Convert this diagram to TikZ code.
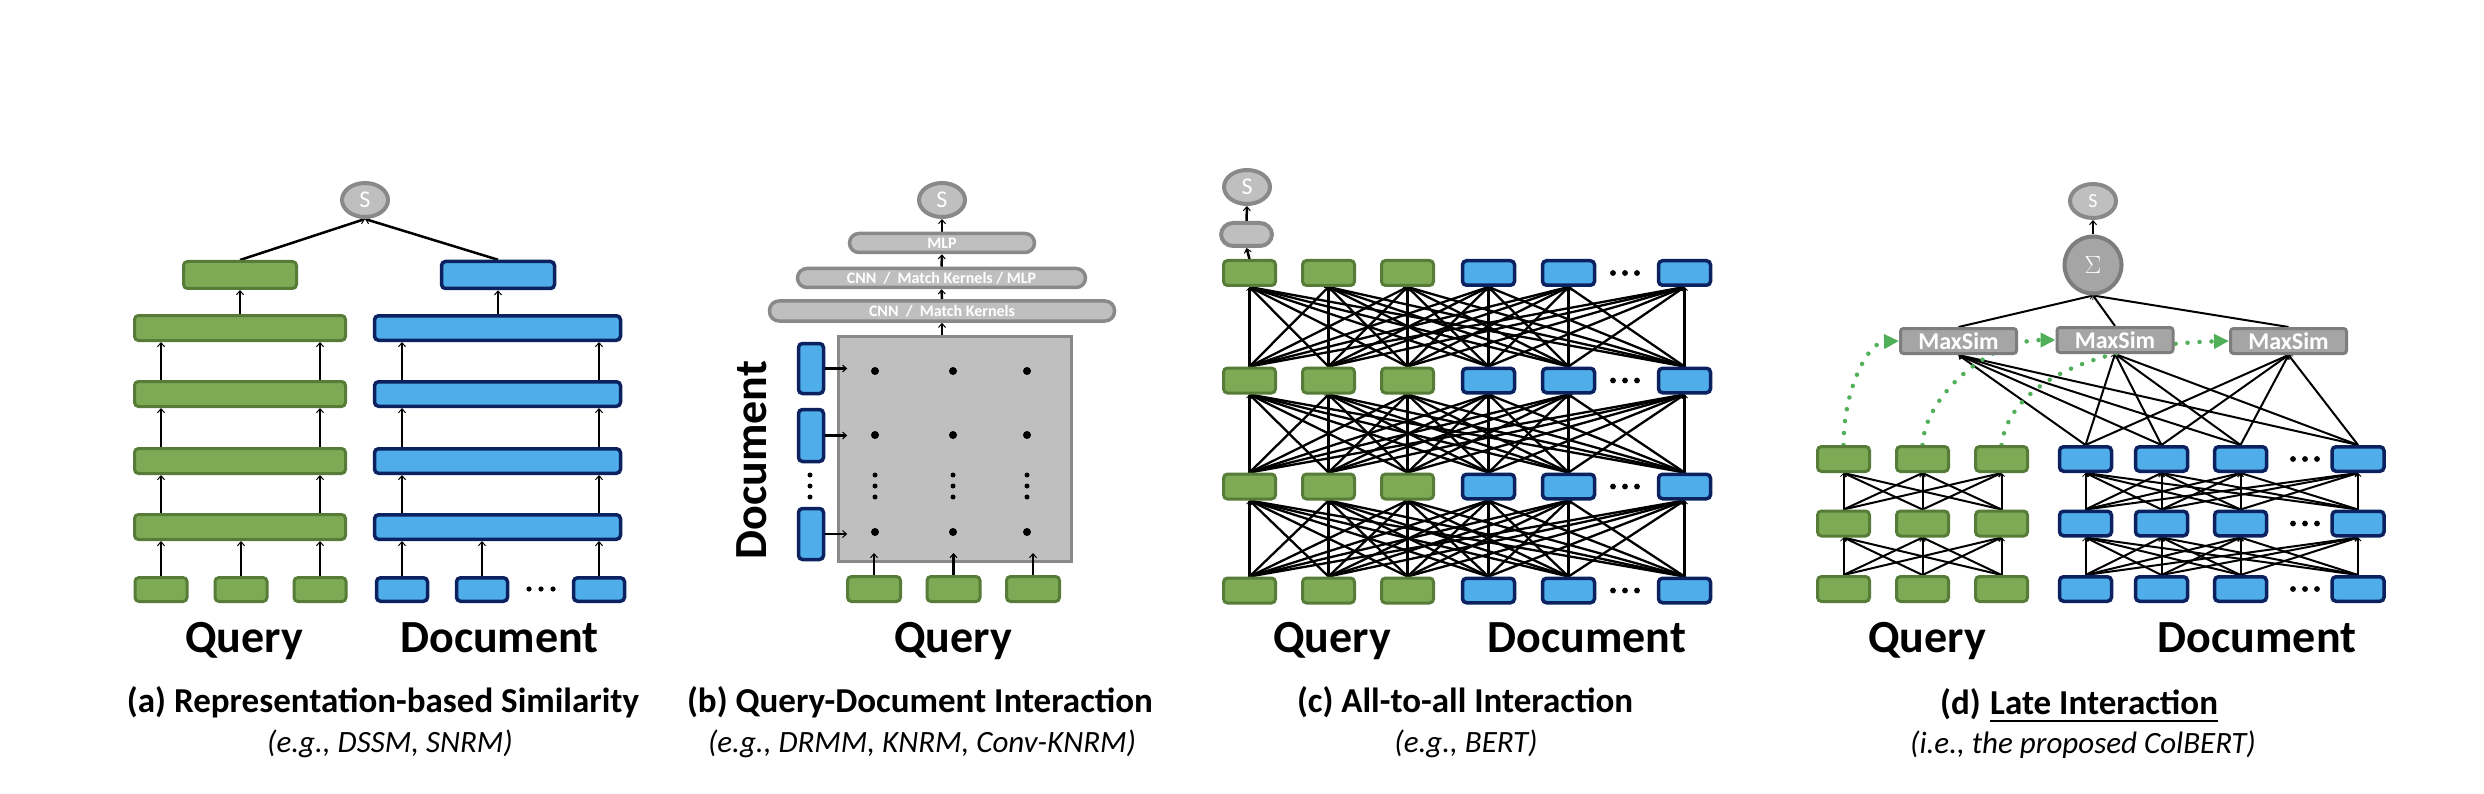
\documentclass[tikz,border=0pt]{standalone}
\usepackage{fontspec}
\setmainfont{Carlito}
\usetikzlibrary{arrows.meta,shapes.geometric}
\definecolor{gfill}{RGB}{126,170,86}
\definecolor{gline}{RGB}{86,124,56}
\definecolor{bfill}{RGB}{79,173,234}
\definecolor{bline}{RGB}{12,34,96}
\definecolor{grfill}{RGB}{191,191,191}
\definecolor{grline}{RGB}{137,137,137}
\definecolor{msfill}{RGB}{165,165,165}
\definecolor{msline}{RGB}{125,125,125}
\definecolor{dotgreen}{RGB}{80,176,90}
\pgfdeclarelayer{bgw}
\pgfdeclarelayer{bg}
\pgfsetlayers{bgw,bg,main}
\begin{document}
\begin{tikzpicture}[x=1pt,y=-1pt,
  gbox/.style={draw=gline,fill=gfill,line width=3pt,rounded corners=4pt,inner sep=0pt},
  bbox/.style={draw=bline,fill=bfill,line width=3.5pt,rounded corners=4pt,inner sep=0pt},
  sz/.style 2 args={minimum width=#1,minimum height=#2},
  sell/.style={ellipse,draw=grline,fill=grfill,line width=4pt,inner sep=0pt,minimum width=46,minimum height=34,text=white,font=\fontsize{24}{24}\selectfont},
  pill/.style={draw=grline,fill=grfill,line width=3.5pt,rounded corners=9.5pt,inner sep=0pt,text=white,font=\bfseries\fontsize{16}{16}\selectfont},
  msbox/.style={draw=msline,fill=msfill,line width=3pt,rounded corners=3pt,inner sep=0pt,minimum width=116,minimum height=25,text=white,font=\bfseries\fontsize{24}{24}\selectfont},
  arr/.style={line width=2.5pt,-{Straight Barb[length=4pt,width=7pt,line width=1pt]}},
  conn/.style={line width=2.3pt,-{Straight Barb[length=3pt,width=6pt,line width=0.8pt]}},
  connd/.style={line width=2pt,-{Straight Barb[length=3pt,width=6pt,line width=0.8pt]}},
  dotarr/.style={draw=dotgreen,line width=4.5pt,line cap=round,dash pattern=on 0pt off 12pt,-{Triangle[length=15pt,width=14pt,fill=dotgreen]}},
  labt/.style={font=\bfseries\fontsize{46}{46}\selectfont,anchor=base,inner sep=0pt},
  capt/.style={font=\bfseries\fontsize{35}{35}\selectfont,anchor=base,inner sep=0pt},
  subt/.style={font=\itshape\fontsize{31}{31}\selectfont,anchor=base,inner sep=0pt}
]
\begin{pgfonlayer}{bgw}
\path[use as bounding box,fill=white] (0,0) rectangle (2484,794);
\end{pgfonlayer}

% ================= (a) =================
\node[sell] (sa) at (365,200) {S};
\node[gbox,sz={113}{27}] (ga) at (240,275) {};
\node[bbox,sz={113}{27}] (ba) at (498,275) {};
\foreach \i/\y in {1/328,2/394,3/461,4/527} {
  \node[gbox,sz={211}{25}] (gw\i) at (240,\y) {};
  \node[bbox,sz={246}{24.5}] (bw\i) at (497.5,\y) {};
}
\foreach \i/\x in {1/161,2/241,3/320} \node[gbox,sz={52}{24}] (gs\i) at (\x,589.5) {};
\foreach \i/\x in {1/402,2/482,3/599} \node[bbox,sz={51}{23.5}] (bs\i) at (\x,589.5) {};
\foreach \x in {529,541,553} \fill (\x,589) circle (2.6);
\begin{pgfonlayer}{bg}
  \draw[arr] (ga.north) -- (sa.south);
  \draw[arr] (ba.north) -- (sa.south);
  \draw[arr] (gw1.north) -- (ga.south);
  \draw[arr] (ba.south |- bw1.north) -- (ba.south);
  \foreach \lo/\hi in {2/1,3/2,4/3} \foreach \k in {1,3} {
    \draw[arr] (gs\k |- gw\lo.north) -- (gs\k |- gw\hi.south);
    \draw[arr] (bs\k |- bw\lo.north) -- (bs\k |- bw\hi.south);
  }
  \foreach \k in {1,2,3} {
    \draw[arr] (gs\k.north) -- (gs\k |- gw4.south);
    \draw[arr] (bs\k.north) -- (bs\k |- bw4.south);
  }
\end{pgfonlayer}
\node[labt] (qa) at (244,652) {Query};
\node[labt] (da) at (499.5,652) {Document};
\node[capt] (ca) at (383,712) {(a) Representation-based Similarity};
\node[subt] (ea) at (390,752) {(e.g., DSSM, SNRM)};

% ================= (b) =================
\node[sell] (sb) at (942,200) {S};
\node[pill,sz={185}{19}] (p3) at (942,243) {MLP};
\node[pill,sz={288}{19}] (p2) at (941.5,278) {CNN\ \ /\ \ Match Kernels / MLP};
\node[pill,sz={345}{20}] (p1) at (942,311) {CNN\ \ /\ \ Match Kernels};
\node[draw=grline,fill=grfill,line width=3pt,inner sep=0pt,sz={233}{225}] (mat) at (955,449) {};
\foreach \x in {875,953,1027} {
  \foreach \y in {371,435,532} \fill (\x,\y) circle (4);
  \foreach \y in {475,486,497} \fill (\x,\y) circle (2.5);
}
\node[bbox,sz={25}{50}] (db1) at (811,368.5) {};
\node[bbox,sz={25}{52}] (db2) at (811,435.5) {};
\node[bbox,sz={25}{51}] (db3) at (811,534) {};
\foreach \y in {475,486,497} \fill (810,\y) circle (2.5);
\foreach \i/\x in {1/874,2/953.5,3/1033} \node[gbox,sz={53}{25}] (gb\i) at (\x,589) {};
\draw[arr] (db1.east) -- ++(22,0);
\draw[arr] (db2.east) -- ++(22,0);
\draw[arr] (db3.east) -- ++(22,0);
\draw[arr] (gb1.north) -- ++(0,-22);
\draw[arr] (gb2.north) -- ++(0,-22);
\draw[arr] (gb3.north) -- ++(0,-22);
\begin{pgfonlayer}{bg}
\draw[arr] (p1.south |- mat.north) -- (p1.south);
\draw[arr] (p1.north) -- (p2.south);
\draw[arr] (p2.north) -- (p3.south);
\draw[arr] (p3.north) -- (sb.south);
\end{pgfonlayer}
\node[labt,rotate=90,anchor=center] (dlb) at (752,460) {Document};
\node[labt] (qb) at (953,652) {Query};
\node[capt] (cb) at (920,712) {(b) Query-Document Interaction};
\node[subt] (eb) at (922,752) {(e.g., DRMM, KNRM, Conv-KNRM)};

% ================= (c) =================
\node[sell] (sc) at (1247,187) {S};
\node[draw=grline,fill=grfill,line width=4pt,rounded corners=12pt,inner sep=0pt,sz={51}{23}] (pc) at (1246.5,234.5) {};
\foreach \r/\y in {1/273,2/380.5,3/486.5,4/590.5} {
  \foreach \c/\x in {1/1249.5,2/1328.5,3/1407.5} \node[gbox,sz={52}{25}] (c\r\c) at (\x,\y) {};
  \foreach \c/\x in {4/1488.5,5/1568.5,6/1684.5} \node[bbox,sz={52}{24.5}] (c\r\c) at (\x,\y) {};
  \foreach \x in {1613,1625,1637} \fill (\x,\y) circle (2.9);
}
\begin{pgfonlayer}{bg}
  \foreach \lo/\hi in {2/1,3/2,4/3} \foreach \a in {1,...,6} \foreach \b in {1,...,6}
    \draw[conn] (c\lo\a.north) -- (c\hi\b.south);
  \draw[arr] (c11.north) -- (pc.south);
  \draw[arr] (pc.north) -- (sc.south);
\end{pgfonlayer}
\node[labt] (qc) at (1332,652) {Query};
\node[labt] (dc) at (1587,652) {Document};
\node[capt] (cc) at (1465,712) {(c) All-to-all Interaction};
\node[subt] (ec) at (1466,752) {(e.g., BERT)};

% ================= (d) =================
\node[sell,minimum width=46,minimum height=34,font=\fontsize{20}{20}\selectfont] (sd) at (2093,201) {S};
\node[circle,draw=msline,fill=msfill,line width=4pt,inner sep=0pt,minimum size=57,text=white,font=\fontsize{38}{38}\selectfont] (sig) at (2093,265) {$\Sigma$};
\foreach \r/\y in {1/459,2/523.5,3/589} {
  \foreach \c/\x in {1/1843.5,2/1922.5,3/2001.5} \node[gbox,sz={52}{25}] (dg\r\c) at (\x,\y) {};
  \foreach \c/\x in {1/2085.5,2/2161.5,3/2240.5,4/2358} \node[bbox,sz={52}{24.5}] (db\r\c) at (\x,\y) {};
  \foreach \x in {2293,2305,2317} \fill (\x,\y) circle (2.9);
}
\node[msbox] (ms1) at (1958.5,341) {MaxSim};
\node[msbox] (ms2) at (2115,340) {MaxSim};
\node[msbox] (ms3) at (2288.5,341) {MaxSim};
\begin{pgfonlayer}{bg}
  \foreach \lo/\hi in {2/1,3/2} {
    \foreach \a in {1,2,3} \foreach \b in {1,2,3} \draw[connd] (dg\lo\a.north) -- (dg\hi\b.south);
    \foreach \a in {1,...,4} \foreach \b in {1,...,4} \draw[connd] (db\lo\a.north) -- (db\hi\b.south);
  }
  \foreach \m in {1,2,3} {
    \foreach \b in {1,...,4} \draw[connd] (db1\b.north) -- (ms\m.south);
    \draw[connd] (ms\m.north) -- (sig.south);
  }
  \draw[arr] (sig.north) -- (sd.south);
  \draw[dotarr] (dg11.north) .. controls (1843.5,389) and (1868,342) .. (ms1.west);
  \draw[dotarr] (dg12.north) .. controls (1925,395) and (1990,340) .. (ms2.west);
  \draw[dotarr] (dg13.north) .. controls (2008,390) and (2080,345) .. (ms3.west);
\end{pgfonlayer}
\node[labt] (qd) at (1927,652) {Query};
\node[labt] (dd) at (2257,652) {Document};
\node[capt,anchor=base west] (cd2) at (1990,714) {Late Interaction};
\node[capt,anchor=base east] (cd1) at ([xshift=-9pt]cd2.base west) {(d)};
\draw[line width=2.2pt] ([yshift=-7pt]cd2.base west) -- ([yshift=-7pt]cd2.base east);
\node[subt] (ed) at (2083,753) {(i.e., the proposed ColBERT)};
\end{tikzpicture}
\end{document}
